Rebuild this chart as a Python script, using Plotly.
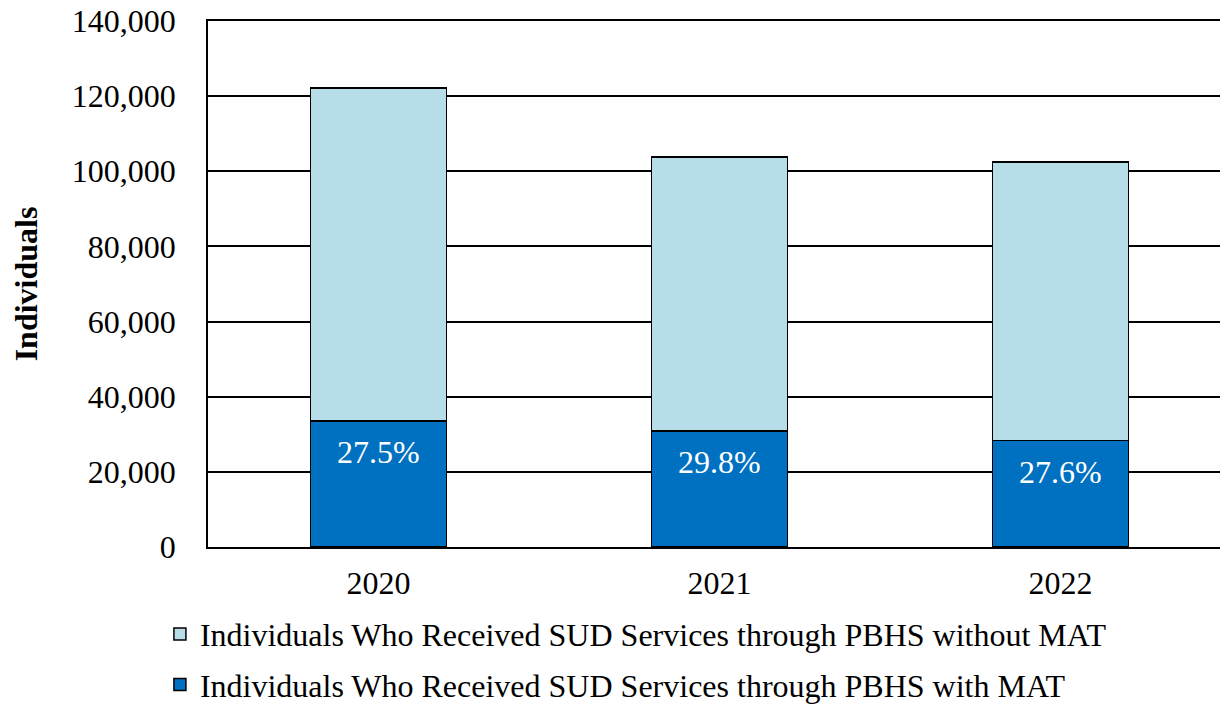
import plotly.graph_objects as go

years = ["2020", "2021", "2022"]
with_mat = [33600, 30900, 28300]
without_mat = [88600, 72900, 74200]
pct_labels = ["27.5%", "29.8%", "27.6%"]
name_without = "Individuals Who Received SUD Services through PBHS without MAT"
name_with = "Individuals Who Received SUD Services through PBHS with MAT"

FONT = "Liberation Serif, Times New Roman, serif"
FS = 32

fig = go.Figure()
fig.add_trace(go.Bar(
    x=years, y=with_mat, name=name_with, legendgroup="b", legendrank=2,
    marker=dict(color="#0070C0", line=dict(color="black", width=1.5)),
))
fig.add_trace(go.Bar(
    x=years, y=without_mat, name=name_without, legendgroup="a", legendrank=1,
    marker=dict(color="#B7DDE8", line=dict(color="black", width=1.5)),
))

for i, (y, t) in enumerate(zip(with_mat, pct_labels)):
    fig.add_annotation(x=i, y=y, xref="x", yref="y", text=t, showarrow=False,
                       yanchor="middle", yshift=-31,
                       font=dict(family=FONT, size=FS, color="white"))

fig.update_layout(
    width=1228, height=704,
    margin=dict(l=200, r=5, t=13, b=165, autoexpand=False),
    barmode="stack", bargap=0.6,
    plot_bgcolor="white", paper_bgcolor="white",
    font=dict(family=FONT, size=FS, color="black"),
    showlegend=True,
    legend=dict(orientation="v", traceorder="grouped", tracegroupgap=6,
                x=-0.047, xanchor="left", y=-0.1133, yanchor="top",
                font=dict(family=FONT, size=FS, color="black"),
                itemwidth=30),
    xaxis=dict(type="category", range=[-0.5, 2.5], showline=True, mirror=True,
               linecolor="black", linewidth=1.5,
               showgrid=False, ticks="outside", ticklen=7, tickcolor="rgba(0,0,0,0)",
               tickfont=dict(family=FONT, size=FS)),
    yaxis=dict(range=[0, 140000], dtick=20000, tickformat=",",
               showgrid=True, gridcolor="black", gridwidth=1.5,
               showline=True, linecolor="black", linewidth=1.5,
               zeroline=False, ticks="outside", ticklen=24, tickcolor="rgba(0,0,0,0)",
               ticklabeloverflow="allow",
               tickfont=dict(family=FONT, size=FS),
               title=dict(text="<b>Individuals</b>", standoff=28,
                          font=dict(family=FONT, size=FS)),
               automargin=False),
)

fig.write_html("out.html")
